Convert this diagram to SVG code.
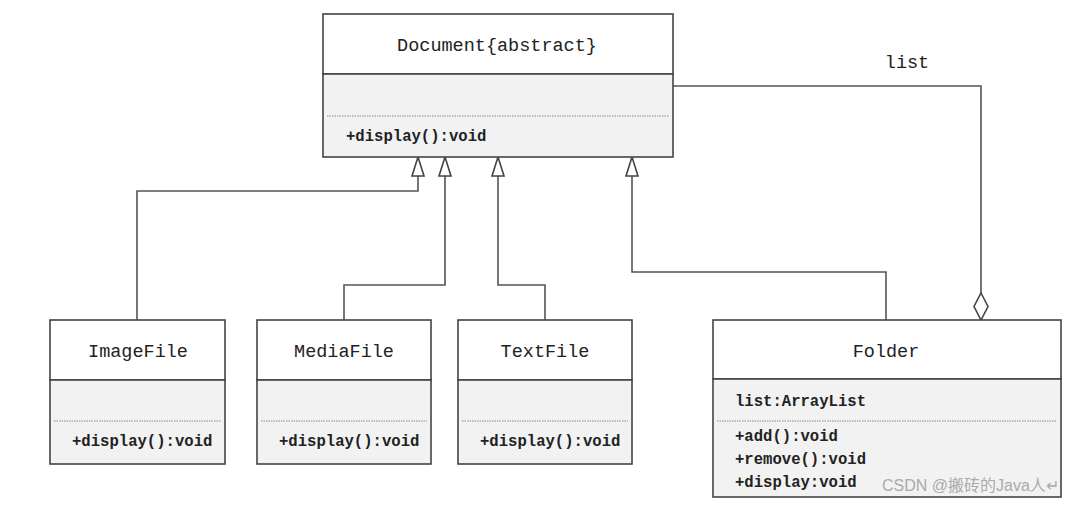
<svg xmlns="http://www.w3.org/2000/svg" width="1088" height="506" viewBox="0 0 1088 506">
<style>
.box{fill:#fff;stroke:#444;stroke-width:1.6}
.body{fill:#f2f2f2;stroke:#444;stroke-width:1.6}
.dash{stroke:#888;stroke-width:1;stroke-dasharray:1.5 1}
.title{font-family:"Liberation Mono","DejaVu Sans Mono",monospace;font-size:18.5px;fill:#222;text-anchor:middle}
.m{font-family:"Liberation Mono","DejaVu Sans Mono",monospace;font-size:15.6px;font-weight:bold;fill:#222}
.conn{fill:none;stroke:#555;stroke-width:1.6}
.wm{font-family:"Liberation Sans","Noto Sans CJK SC",sans-serif;font-size:16px;fill:#aaa}
</style>
<defs>
<marker id="tri" viewBox="0 0 14 20" refX="7" refY="0" markerWidth="14" markerHeight="20" markerUnits="userSpaceOnUse" orient="auto-start-reverse">
<path d="M7,0 L13,19 L1,19 Z" fill="#fff" stroke="#444" stroke-width="1.6"/>
</marker>
</defs>
<rect width="1088" height="506" fill="#fff"/>
<g id="connectors">
<path class="conn" d="M137,320 V191 H418 V176"/>
<path d="M418,157 L424,176 L412,176 Z" fill="#fff" stroke="#444" stroke-width="1.6"/>
<path class="conn" d="M344,320 V285 H445 V176"/>
<path d="M445,157 L451,176 L439,176 Z" fill="#fff" stroke="#444" stroke-width="1.6"/>
<path class="conn" d="M545,320 V285 H498 V176"/>
<path d="M498,157 L504,176 L492,176 Z" fill="#fff" stroke="#444" stroke-width="1.6"/>
<path class="conn" d="M886,320 V272 H632 V176"/>
<path d="M632,157 L638,176 L626,176 Z" fill="#fff" stroke="#444" stroke-width="1.6"/>
<path class="conn" d="M673,86 H981 V293"/>
<path d="M981,293 L988,306.5 L981,320 L974,306.5 Z" fill="#fff" stroke="#444" stroke-width="1.6"/>
<text x="907" y="68" class="title">list</text>
</g>
<g id="Document">
<rect class="box" x="323" y="14" width="350" height="60"/>
<rect class="body" x="323" y="74" width="350" height="83"/>
<line class="dash" x1="327" y1="116" x2="669" y2="116"/>
<text x="497" y="51" class="title">Document{abstract}</text>
<text x="346" y="141" class="m">+display():void</text>
</g>
<g id="ImageFile">
<rect class="box" x="50" y="320" width="175" height="60"/>
<rect class="body" x="50" y="380" width="175" height="84"/>
<line class="dash" x1="54" y1="421" x2="221" y2="421"/>
<text x="138" y="357" class="title">ImageFile</text>
<text x="72" y="446" class="m">+display():void</text>
</g>
<g id="MediaFile">
<rect class="box" x="257" y="320" width="174" height="60"/>
<rect class="body" x="257" y="380" width="174" height="84"/>
<line class="dash" x1="261" y1="421" x2="427" y2="421"/>
<text x="344" y="357" class="title">MediaFile</text>
<text x="279" y="446" class="m">+display():void</text>
</g>
<g id="TextFile">
<rect class="box" x="458" y="320" width="174" height="60"/>
<rect class="body" x="458" y="380" width="174" height="84"/>
<line class="dash" x1="462" y1="421" x2="628" y2="421"/>
<text x="545" y="357" class="title">TextFile</text>
<text x="480" y="446" class="m">+display():void</text>
</g>
<g id="Folder">
<rect class="box" x="713" y="320" width="348" height="59"/>
<rect class="body" x="713" y="379" width="348" height="118"/>
<line class="dash" x1="717" y1="421" x2="1057" y2="421"/>
<text x="886" y="357" class="title">Folder</text>
<text x="735" y="406" class="m">list:ArrayList</text>
<text x="735" y="441" class="m">+add():void</text>
<text x="735" y="464" class="m">+remove():void</text>
<text x="735" y="487" class="m">+display:void</text>
</g>
<text x="882" y="491" class="wm">CSDN @搬砖的Java人↵</text>
</svg>
